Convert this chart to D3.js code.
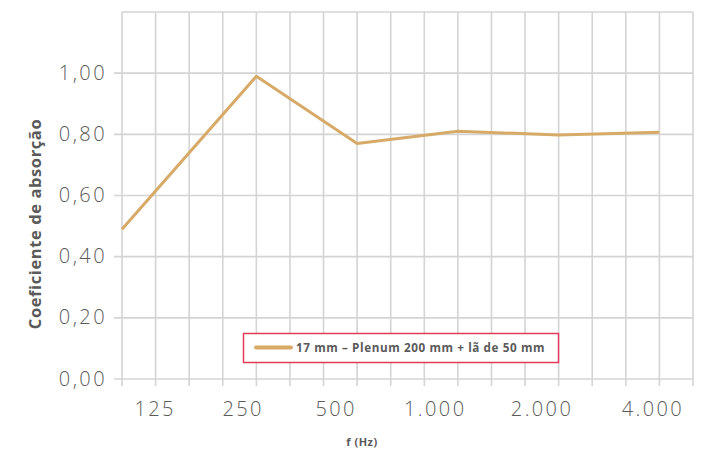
<!DOCTYPE html>
<html>
<head>
<meta charset="utf-8">
<script src="https://cdn.jsdelivr.net/npm/d3@7/dist/d3.min.js"></script>
<style>
  html, body { margin: 0; padding: 0; background: #fff; }
  svg { display: block; }
  text { font-family: "Open Sans", "Noto Sans", sans-serif; }
</style>
</head>
<body>
<svg id="chart" width="711" height="450"></svg>
<script>
// Third-octave band positions (one grid line per band)
const bands = ["100","125","160","200","250","315","400","500","630","800","1000","1250","1600","2000","2500","3150","4000","5000"];
// Measured series
const seriesName = "17 mm – Plenum 200 mm + lã de 50 mm";
const pointBands = ["100","250","500","1000","2000","4000"];
const pointValues = [0.49, 0.99, 0.77, 0.81, 0.798, 0.807];
// Axis labels
const xTickLabels = ["125","250","500","1.000","2.000","4.000"];
const xTickAt = [0.95, 3.57, 6.34, 9.29, 12.47, 15.77]; // in band-index units
const yTicks = [0, 0.2, 0.4, 0.6, 0.8, 1.0];
const yMax = 1.2;
const yTitle = "Coeficiente de absorção";
const xTitle = "f (Hz)";

(function () {
const svg = d3.select("#chart");
const mLeft = 122, mRight = 693, mTop = 12, mBottom = 379;
const gridColor = "#d4d4d4";
const textColor = "#5a5a5a";

const x = d3.scalePoint().domain(bands).range([mLeft, mRight]);
const xi = d3.scaleLinear().domain([0, bands.length - 1]).range([mLeft, mRight]);
const y = d3.scaleLinear().domain([0, yMax]).range([mBottom, mTop]);

// vertical grid lines (extend below axis as ticks)
svg.append("g").selectAll("line").data(bands).join("line")
  .attr("x1", d => x(d)).attr("x2", d => x(d))
  .attr("y1", mTop).attr("y2", mBottom + 7)
  .attr("stroke", gridColor).attr("stroke-width", 1.6);

// horizontal grid lines
svg.append("g").selectAll("line").data(yTicks.concat([yMax])).join("line")
  .attr("x1", d => d === yMax ? mLeft : mLeft - 8).attr("x2", mRight)
  .attr("y1", d => y(d)).attr("y2", d => y(d))
  .attr("stroke", gridColor).attr("stroke-width", 1.6);

// y tick labels
const fmt = d => d3.format(".2f")(d).replace(".", ",");
svg.append("g").selectAll("text").data(yTicks).join("text")
  .attr("x", mLeft - 15).attr("y", d => y(d)).attr("dy", "0.33em")
  .attr("text-anchor", "end")
  .attr("font-size", 20).attr("font-weight", 300)
  .attr("letter-spacing", 2.4)
  .attr("fill", textColor)
  .text(fmt);

// x tick labels
svg.append("g").selectAll("text").data(xTickLabels).join("text")
  .attr("x", (d, i) => xi(xTickAt[i]) + 1.2).attr("y", 415.5)
  .attr("text-anchor", "middle")
  .attr("font-size", 20).attr("font-weight", 300)
  .attr("letter-spacing", 2.4)
  .attr("fill", textColor)
  .text(d => d);

// axis titles
svg.append("text")
  .attr("transform", `translate(41,224) rotate(-90)`)
  .attr("text-anchor", "middle")
  .attr("font-size", 16.5).attr("font-weight", 700)
  .attr("letter-spacing", 0.6)
  .attr("fill", textColor)
  .text(yTitle);

svg.append("text")
  .attr("x", 362).attr("y", 446)
  .attr("text-anchor", "middle")
  .attr("font-size", 11).attr("font-weight", 700)
  .attr("letter-spacing", 0.5)
  .attr("fill", textColor)
  .text(xTitle);

// series line
const line = d3.line().x(d => x(d[0])).y(d => y(d[1]));
svg.append("path")
  .datum(pointBands.map((b, i) => [b, pointValues[i]]))
  .attr("d", line)
  .attr("fill", "none")
  .attr("stroke", "#d8aa67")
  .attr("stroke-width", 3)
  .attr("stroke-linejoin", "round");

// legend
const lg = svg.append("g");
lg.append("rect")
  .attr("x", 243.5).attr("y", 333.5).attr("width", 315).attr("height", 29)
  .attr("fill", "#fff").attr("stroke", "#e5395c").attr("stroke-width", 1.5);
lg.append("line")
  .attr("x1", 256).attr("x2", 291).attr("y1", 347.5).attr("y2", 347.5)
  .attr("stroke", "#d8aa67").attr("stroke-width", 4).attr("stroke-linecap", "round");
lg.append("text")
  .attr("x", 296).attr("y", 347.5).attr("dy", "0.36em")
  .attr("font-size", 11.7).attr("font-weight", 700)
  .attr("letter-spacing", 0.6)
  .attr("fill", textColor)
  .text(seriesName);
})();
</script>
</body>
</html>
